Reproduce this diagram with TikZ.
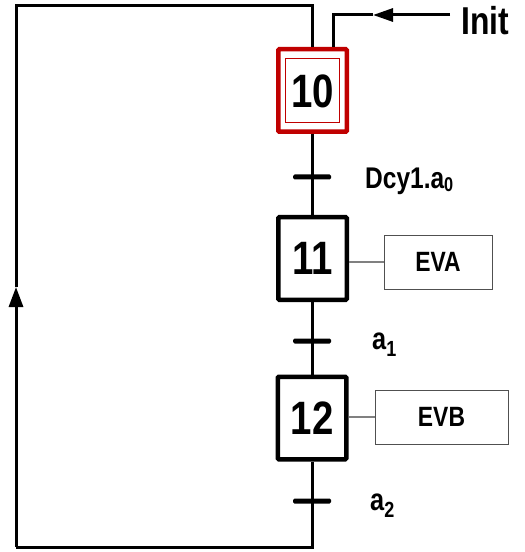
\documentclass[tikz,border=0pt]{standalone}
\usepackage{fontspec}
\newfontfamily\nf{Liberation Sans}[FakeStretch=0.82]
\usetikzlibrary{arrows.meta}
\definecolor{grred}{HTML}{C00000}
\definecolor{actgray}{HTML}{505050}
\begin{document}
\begin{tikzpicture}[x=1bp,y=-1bp,
  link/.style={line width=3bp, line join=miter},
  stepbox/.style={draw, fill=white, line width=4.5bp, minimum width=68.5bp, minimum height=82.5bp, inner sep=0pt, rounded corners=1bp, font=\nf\bfseries\fontsize{47}{47}\selectfont},
  innerbox/.style={draw=grred, line width=1bp, minimum width=54bp, minimum height=64bp, inner sep=0pt, font=\nf\bfseries\fontsize{47}{47}\selectfont},
  trans/.style={fill=black, minimum width=38bp, minimum height=5bp, inner sep=0pt, rounded corners=1.5bp},
  action/.style={draw=actgray, fill=white, line width=1bp, minimum width=108bp, minimum height=54bp, inner sep=0pt, font=\nf\bfseries\fontsize{28}{28}\selectfont},
  lab/.style={anchor=base west, inner sep=0pt, font=\nf\bfseries},
  actlink/.style={draw=gray, line width=1.5bp}
]
\useasboundingbox (0,0) rectangle (525,552);

% coordinates of the loop and init line
\coordinate (br) at (312,547);
\coordinate (bl) at (16,547);
\coordinate (am) at (16,287);
\coordinate (tl) at (16,6);
\coordinate (tr) at (312,6);
\coordinate (ic) at (333,15);
\coordinate (ia) at (373,15);
\coordinate (ie) at (450,15);

% steps
\node[stepbox, draw=grred] (s10) at (312.5,90.5) {};
\node[innerbox] (s10i) at (312.5,91) {10};
\node[stepbox] (s11) at (312.5,258.5) {11};
\node[stepbox] (s12) at (312,418) {12};

% actions
\node[action] (eva) at (438,262) {EVA};
\node[action, minimum width=133bp] (evb) at (441.5,417) {EVB};

% links
\draw[link] (s10.south -| tr) -- (s11.north -| tr);
\draw[link] (s11.south -| tr) -- (s12.north -| tr);
\draw[link] (s12.south -| tr) -- (br) -- (bl);
\draw[link, -{Triangle[length=20bp,width=14bp]}] (bl) -- (am);
\draw[link] (am) -- (tl) -- (tr) -- (s10.north -| tr);
\draw[link, -{Triangle[length=20bp,width=13bp]}] (ie) -- (ia);
\draw[link] (ia) -- (ic) -- (s10.north -| ic);

\draw[actlink] (s11.east |- eva.west) -- (eva.west);
\draw[actlink] (s12.east |- evb.west) -- (evb.west);

% transitions
\node[trans] (t1) at (312,177) {};
\node[trans] (t2) at (312,341) {};
\node[trans] (t3) at (312,501) {};

% labels
\node[lab] (init) at (461,35) {\fontsize{39}{39}\selectfont Init};
\node[lab] (r1) at (365,189) {\fontsize{30}{30}\selectfont Dcy1.a\raisebox{-3bp}{\fontsize{20}{20}\selectfont 0}};
\node[lab] (r2) at (372,349) {\fontsize{31}{31}\selectfont a\raisebox{-7bp}{\fontsize{22}{22}\selectfont 1}};
\node[lab] (r3) at (370,510) {\fontsize{31}{31}\selectfont a\raisebox{-7bp}{\fontsize{22}{22}\selectfont 2}};
\end{tikzpicture}
\end{document}
